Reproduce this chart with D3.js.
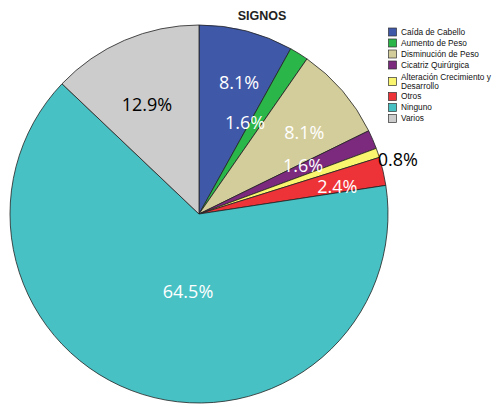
<!DOCTYPE html>
<html>
<head>
<meta charset="utf-8">
<script src="https://cdn.jsdelivr.net/npm/d3@7"></script>
<style>
  body { margin: 0; background: #fff; }
</style>
</head>
<body>
<div id="chart"></div>
<script>
// data
var categories = ["Caída de Cabello", "Aumento de Peso", "Disminución de Peso", "Cicatriz Quirúrgica",
    "Alteración Crecimiento y Desarrollo", "Otros", "Ninguno", "Varios"]
var counts = [10, 2, 10, 2, 1, 3, 80, 16]
var percentLabels = ["8.1%", "1.6%", "8.1%", "1.6%", "0.8%", "2.4%", "64.5%", "12.9%"]
var colors = ["#3f58a8", "#2bb64a", "#d3cd9b", "#7b2a7e", "#f9f56e", "#ee3338", "#48c1c4", "#cccccc"]

// label placement (degrees clockwise from top, radius in px), text colour
var labelAngle = [17.0, 26.8, 52.4, 64.8, 74.8, 78.9, 188.1, 334.5]
var labelRadius = [137, 102, 133, 115, 206, 141, 78, 121]
var labelColor = ["#fff", "#fff", "#fff", "#fff", "#000", "#fff", "#fff", "#000"]

var width = 499, height = 407
var cx = 199, cy = 214, radius = 189

var svg = d3.select("#chart").append("svg")
    .attr("width", width)
    .attr("height", height)

//------------------------------------------
// title
//------------------------------------------
svg.append("text")
    .attr("x", 262).attr("y", 19.5)
    .attr("text-anchor", "middle")
    .style("font-family", "Liberation Sans, Arial, sans-serif")
    .style("font-weight", "bold")
    .style("font-size", "12.5px")
    .style("fill", "#222")
    .text("SIGNOS")

//------------------------------------------
// pie
//------------------------------------------
var g = svg.append("g")
    .attr("transform", "translate(" + cx + "," + cy + ")")

var pie = d3.pie().value(function (d) { return d }).sort(null)
var arc = d3.arc().innerRadius(0).outerRadius(radius)

g.selectAll("path.slice")
    .data(pie(counts))
    .enter()
    .append("path")
    .attr("class", "slice")
    .attr("d", arc)
    .attr("fill", function (d, i) { return colors[i] })
    .attr("stroke", "#222")
    .attr("stroke-width", 0.8)
    .attr("stroke-linejoin", "round")

g.selectAll("text.pct")
    .data(percentLabels)
    .enter()
    .append("text")
    .attr("class", "pct")
    .attr("x", function (d, i) { return labelRadius[i] * Math.sin(labelAngle[i] * Math.PI / 180) })
    .attr("y", function (d, i) { return -labelRadius[i] * Math.cos(labelAngle[i] * Math.PI / 180) })
    .attr("dy", "0.36em")
    .attr("text-anchor", "middle")
    .style("font-family", "Open Sans, sans-serif")
    .style("font-size", "18px")
    .style("fill", function (d, i) { return labelColor[i] })
    .text(function (d) { return d })

//------------------------------------------
// legend
//------------------------------------------
var legendY = [31.5, 42.5, 53.5, 64.5, 81, 96, 107, 118]
var legend = svg.append("g")
    .style("font-family", "Liberation Sans, Arial, sans-serif")
    .style("font-size", "8.3px")

var items = legend.selectAll("g")
    .data(categories)
    .enter()
    .append("g")
    .attr("transform", function (d, i) { return "translate(388," + legendY[i] + ")" })

items.append("rect")
    .attr("x", 0.5).attr("y", -3.5)
    .attr("width", 8).attr("height", 8)
    .attr("fill", function (d, i) { return colors[i] })
    .attr("stroke", "#333")
    .attr("stroke-width", 0.7)

items.each(function (d) {
    var t = d3.select(this).append("text")
        .attr("x", 13)
        .style("fill", "#111")
    if (d === "Alteración Crecimiento y Desarrollo") {
        t.append("tspan").attr("x", 13).attr("y", -1).text("Alteración Crecimiento y")
        t.append("tspan").attr("x", 13).attr("y", 7.5).text("Desarrollo")
    } else {
        t.attr("y", 3.3).text(d)
    }
})
</script>
</body>
</html>
